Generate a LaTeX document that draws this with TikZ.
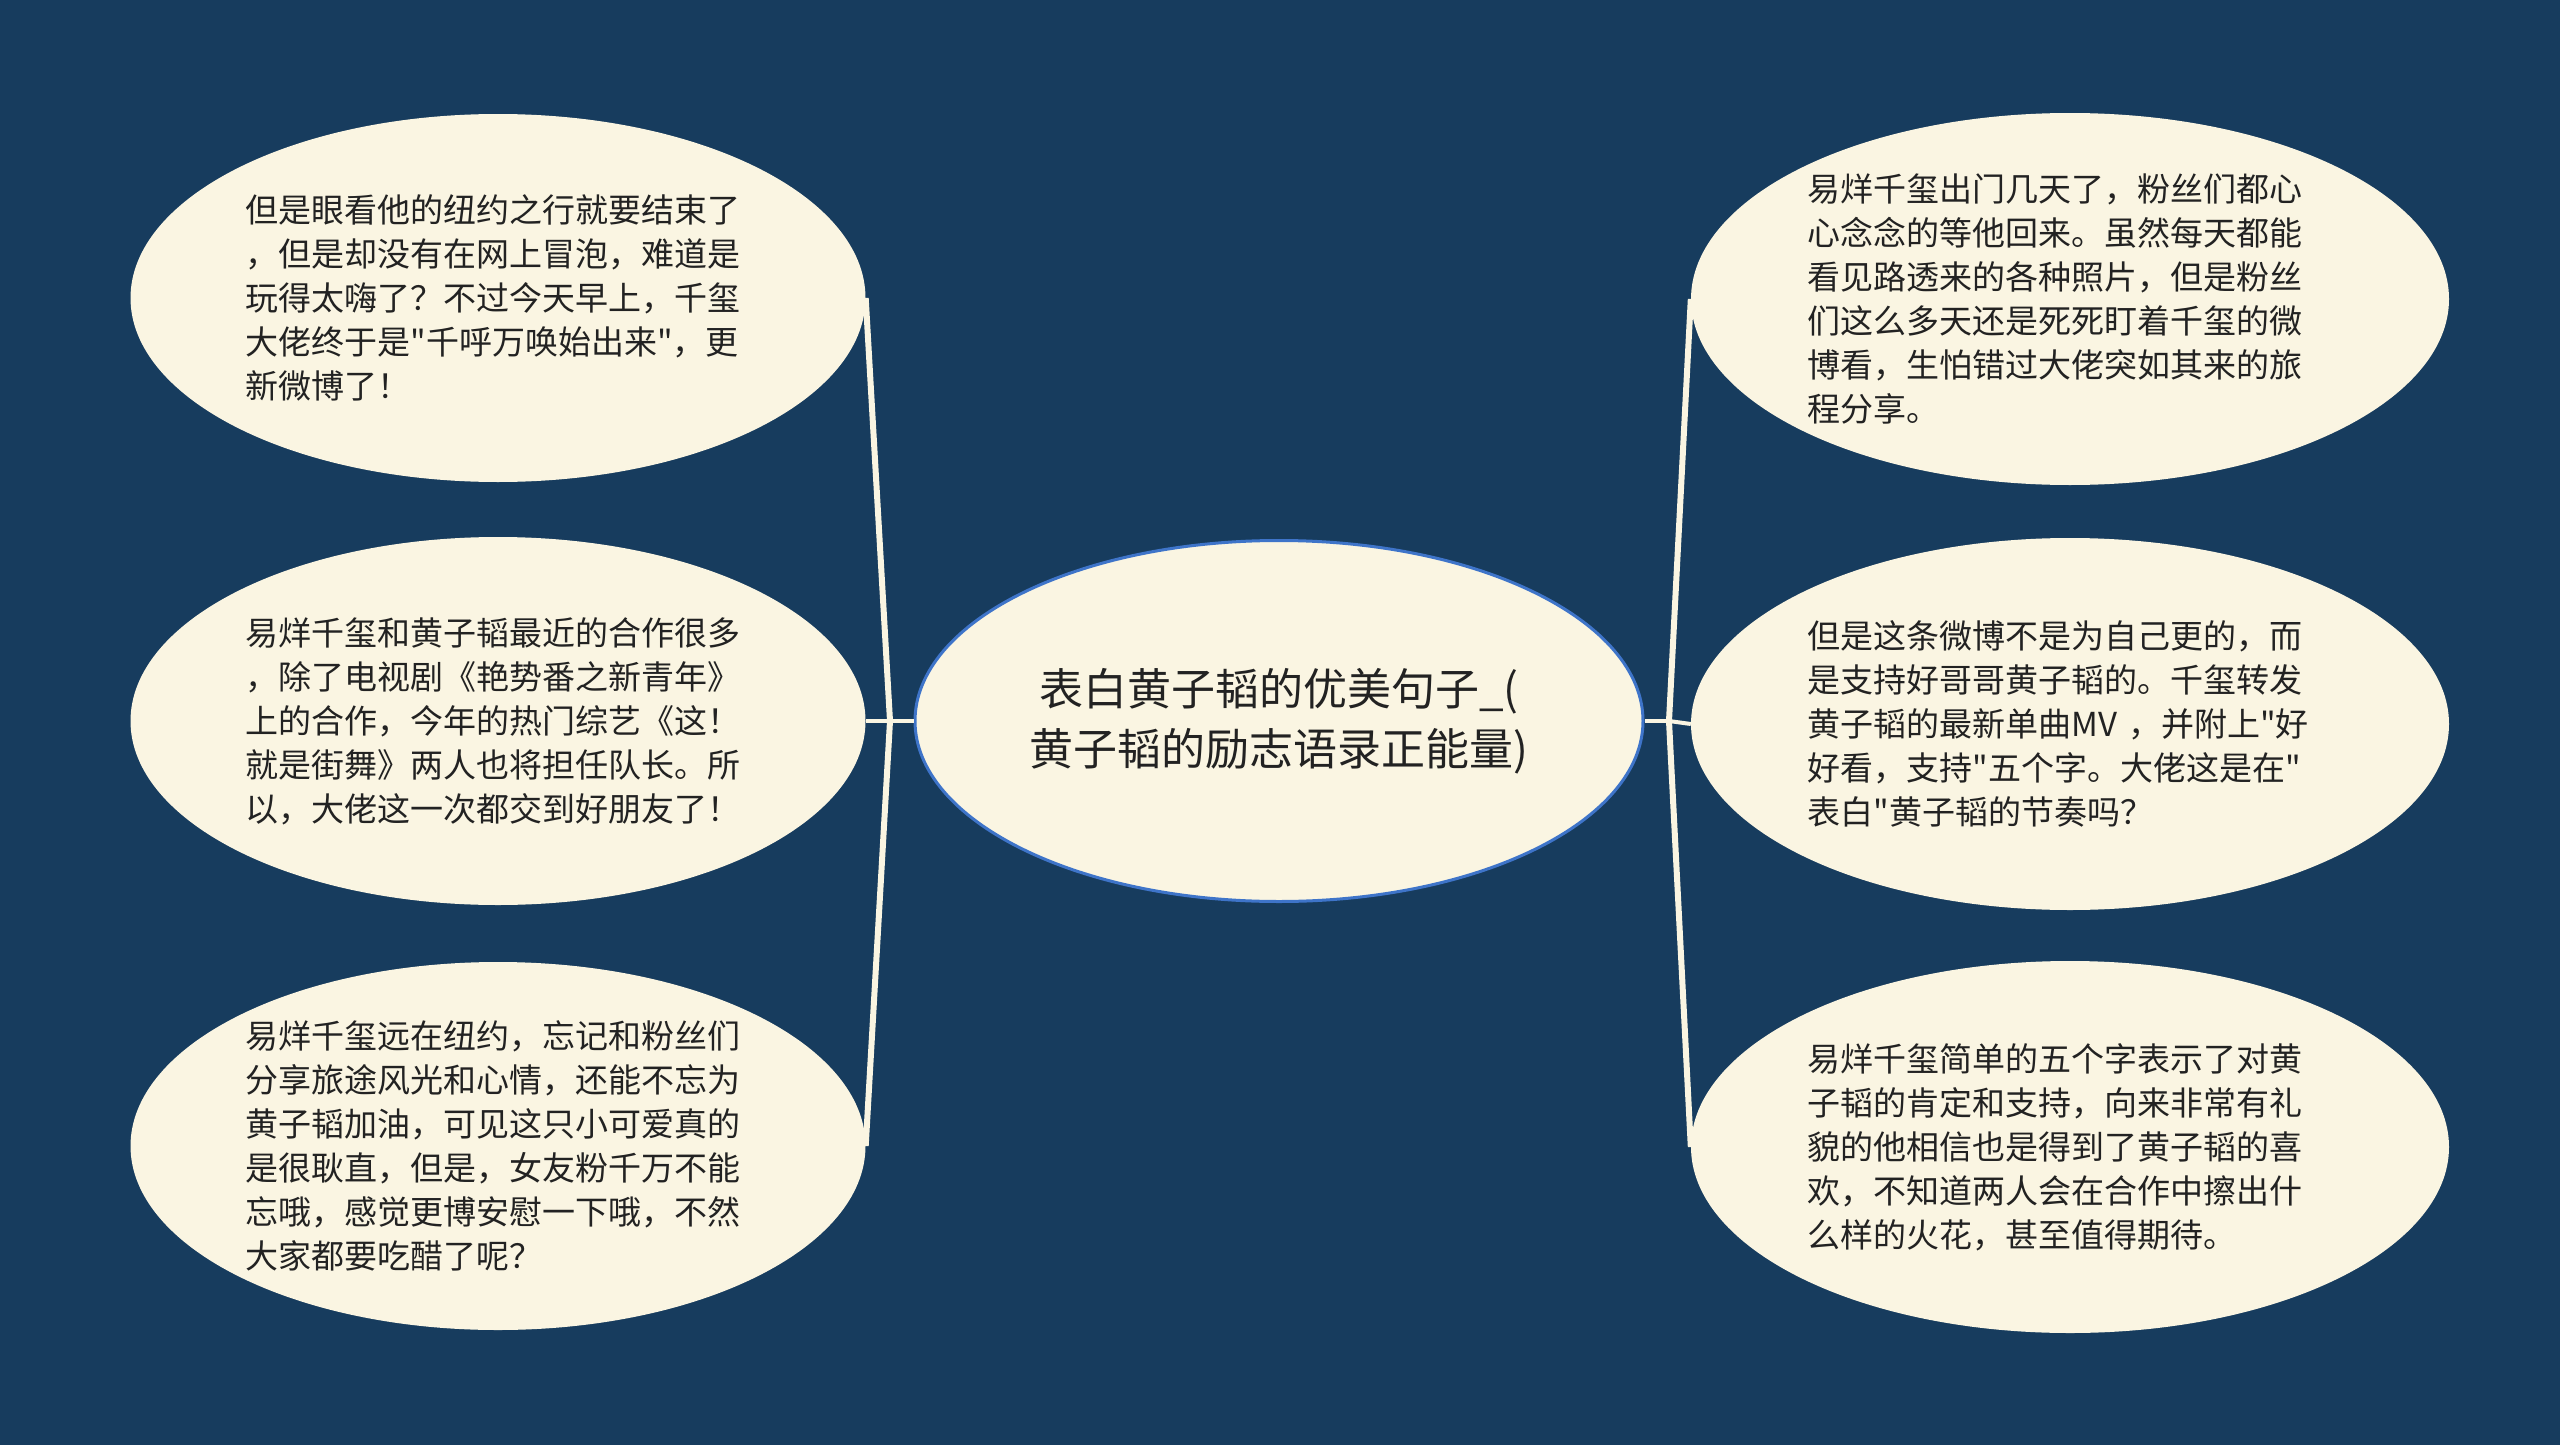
\documentclass[tikz,border=0pt]{standalone}
\usepackage{fontspec}
\setmainfont{Noto Sans CJK SC}[Ligatures=TeXOff]
\definecolor{bg}{HTML}{173C5E}
\definecolor{cream}{HTML}{FAF5E2}
\definecolor{rootblue}{HTML}{3E74C9}
\definecolor{txt}{HTML}{222222}
\usetikzlibrary{shapes.geometric}
\tikzset{
  leaf/.style={ellipse, fill=cream, inner sep=0pt, minimum width=735pt, minimum height=368pt,
    text width=505pt, align=left, text=txt, font=\fontsize{33}{44}\selectfont},
  rleaf/.style={leaf, minimum width=758pt, minimum height=372pt, text width=525pt},
  rootnode/.style={ellipse, fill=cream, draw=rootblue, line width=3pt, inner sep=0pt,
    minimum width=728pt, minimum height=361pt, align=center, text=txt,
    font=\fontsize{44}{60}\selectfont},
  branch/.style={draw=cream, line width=6pt},
  stub/.style={draw=cream, line width=4pt}
}
\begin{document}
\begin{tikzpicture}[x=1pt,y=-1pt]
\fill[bg] (0,0) rectangle (2560,1445);
\useasboundingbox (0,0) rectangle (2560,1445);

\node[rootnode] (root) at (1279,721) {表白黄子韬的优美句子\_(\\黄子韬的励志语录正能量)};

\node[leaf] (l1) at (498,298) {但是眼看他的纽约之行就要结束了\\，但是却没有在网上冒泡，难道是\\玩得太嗨了？不过今天早上，千玺\\大佬终于是"千呼万唤始出来"，更\\新微博了！};
\node[leaf] (l2) at (498,721) {易烊千玺和黄子韬最近的合作很多\\，除了电视剧《艳势番之新青年》\\上的合作，今年的热门综艺《这！\\就是街舞》两人也将担任队长。所\\以，大佬这一次都交到好朋友了！};
\node[leaf] (l3) at (498,1146) {易烊千玺远在纽约，忘记和粉丝们\\分享旅途风光和心情，还能不忘为\\黄子韬加油，可见这只小可爱真的\\是很耿直，但是，女友粉千万不能\\忘哦，感觉更博安慰一下哦，不然\\大家都要吃醋了呢？};

\node[rleaf] (r1) at (2070,299) {易烊千玺出门几天了，粉丝们都心\\心念念的等他回来。虽然每天都能\\看见路透来的各种照片，但是粉丝\\们这么多天还是死死盯着千玺的微\\博看，生怕错过大佬突如其来的旅\\程分享。};
\node[rleaf] (r2) at (2070,724) {但是这条微博不是为自己更的，而\\是支持好哥哥黄子韬的。千玺转发\\黄子韬的最新单曲MV ，并附上"好\\好看，支持"五个字。大佬这是在"\\表白"黄子韬的节奏吗？};
\node[rleaf] (r3) at (2070,1147) {易烊千玺简单的五个字表示了对黄\\子韬的肯定和支持，向来非常有礼\\貌的他相信也是得到了黄子韬的喜\\欢，不知道两人会在合作中擦出什\\么样的火花，甚至值得期待。};

\coordinate (lj) at (890,721);
\coordinate (rj) at (1669,721);

\draw[stub] (root.west) -- (lj);
\draw[stub] (lj) -- (l2.east);
\draw[branch] (lj) -- (l1.east);
\draw[branch] (lj) -- (l3.east);

\draw[stub] (root.east) -- (rj);
\draw[stub] (rj) -- (r2.west);
\draw[branch] (rj) -- (r1.west);
\draw[branch] (rj) -- (r3.west);
\end{tikzpicture}
\end{document}
